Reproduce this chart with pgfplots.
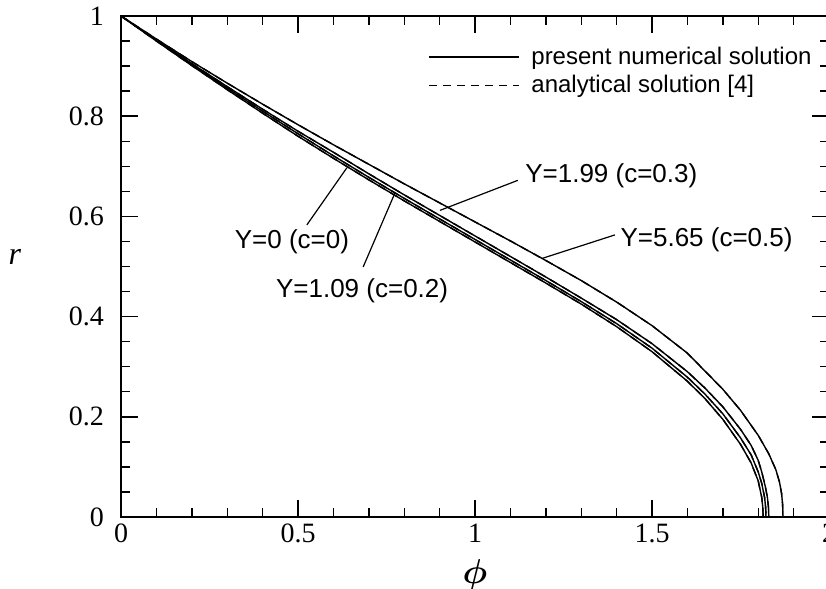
\documentclass[border=0pt]{standalone}
\usepackage{bm}
\usepackage{fontspec}
\setmainfont{Liberation Serif}
\newfontfamily\helv{Liberation Sans}
\usepackage{pgfplots}
\usepackage{pgfplotstable}
\pgfplotsset{compat=1.18}

% Y=0 (c=0)
\pgfplotstableread{
phi r
0 1.000
0.1 0.950
0.2 0.901
0.3 0.853
0.4 0.806
0.5 0.760
0.6 0.716
0.7 0.673
0.8 0.631
0.9 0.590
1.0 0.549
1.1 0.508
1.2 0.467
1.3 0.425
1.4 0.380
1.5 0.330
1.6 0.271
1.65 0.236
1.7 0.195
1.75 0.145
1.78 0.108
1.80 0.072
1.81 0.039
1.813 0.019
1.814 0
}\curveA

% Y=1.09 (c=0.2)
\pgfplotstableread{
phi r
0 1.000
0.1 0.951
0.2 0.903
0.3 0.856
0.4 0.810
0.5 0.765
0.6 0.721
0.7 0.678
0.8 0.636
0.9 0.595
1.0 0.554
1.1 0.513
1.2 0.472
1.3 0.430
1.4 0.386
1.5 0.337
1.6 0.279
1.65 0.245
1.7 0.206
1.75 0.158
1.78 0.124
1.80 0.090
1.81 0.067
1.818 0.039
1.821 0.019
1.822 0
}\curveB

% Y=1.99 (c=0.3)
\pgfplotstableread{
phi r
0 1.000
0.1 0.952
0.2 0.905
0.3 0.859
0.4 0.814
0.5 0.770
0.6 0.728
0.7 0.685
0.8 0.643
0.9 0.602
1.0 0.561
1.1 0.520
1.2 0.479
1.3 0.437
1.4 0.394
1.5 0.346
1.6 0.290
1.65 0.257
1.7 0.220
1.75 0.175
1.78 0.143
1.80 0.113
1.81 0.090
1.82 0.061
1.826 0.039
1.829 0.019
1.830 0
}\curveC

% Y=5.65 (c=0.5)
\pgfplotstableread{
phi r
0 1.000
0.1 0.954
0.2 0.909
0.3 0.866
0.4 0.824
0.5 0.783
0.6 0.743
0.7 0.704
0.8 0.665
0.9 0.627
1.0 0.589
1.1 0.551
1.2 0.512
1.3 0.472
1.4 0.429
1.5 0.382
1.6 0.327
1.7 0.255
1.75 0.213
1.8 0.163
1.83 0.126
1.85 0.094
1.86 0.070
1.866 0.047
1.869 0.024
1.870 0
}\curveD

\begin{document}
\begin{tikzpicture}
\begin{axis}[
  width=354pt, height=250.5pt, scale only axis,
  xmin=0, xmax=2, ymin=0, ymax=1,
  xtick={0,0.5,1,1.5,2}, ytick={0,0.2,0.4,0.6,0.8,1},
  minor x tick num=4, minor y tick num=3,
  tick align=inside, tick pos=both,
  major tick length=8.5pt, minor tick length=4.5pt,
  every tick/.style={black, line width=0.7pt},
  axis line style={line width=1pt},
  tick label style={font=\fontsize{14}{16}\selectfont},
  /pgf/number format/assume math mode=true,
  xticklabel style={yshift=0pt},
  yticklabel style={xshift=-5pt},
  xlabel={$\bm{\phi}$}, ylabel={\textit{r}},
  xlabel style={at={(axis description cs:0.5,-0.116)}, anchor=center, font=\fontsize{16}{18}\selectfont},
  ylabel style={at={(axis description cs:-0.15,0.52)}, anchor=center, rotate=-90, font=\fontsize{16}{18}\selectfont},
  legend style={at={(rel axis cs:0.425,0.955)}, anchor=north west, draw=none, fill=none,
    font=\helv\fontsize{12}{14}\selectfont, row sep=0pt},
  legend cell align=left,
  legend image code/.code={\draw[#1, line width=0.7pt] (0pt,0pt) -- (45pt,0pt); \path (49pt,0pt);},
]
\addlegendimage{solid}
\addlegendentry{present numerical solution}
\addlegendimage{dash pattern=on 4pt off 3pt}
\addlegendentry{analytical solution [4]}

\addplot[forget plot, black, line width=0.7pt, dash pattern=on 4pt off 3pt] table {\curveA};
\addplot[forget plot, black, line width=0.7pt, dash pattern=on 4pt off 3pt] table {\curveB};
\addplot[forget plot, black, line width=0.7pt, dash pattern=on 4pt off 3pt] table {\curveC};
\addplot[forget plot, black, line width=0.7pt, dash pattern=on 4pt off 3pt] table {\curveD};
\addplot[forget plot, black, line width=0.7pt] table {\curveA};
\addplot[forget plot, black, line width=0.7pt] table {\curveB};
\addplot[forget plot, black, line width=0.7pt] table {\curveC};
\addplot[forget plot, black, line width=0.7pt] table {\curveD};

\begin{scope}[font=\helv\fontsize{13}{15}\selectfont]
\node at (axis cs:0.483,0.549) {Y=0 (c=0)};
\draw[line width=0.6pt] (axis cs:0.525,0.583) -- (axis cs:0.638,0.697);
\node at (axis cs:0.681,0.451) {Y=1.09 (c=0.2)};
\draw[line width=0.6pt] (axis cs:0.684,0.499) -- (axis cs:0.774,0.647);
\node[anchor=west, inner sep=0pt] at (axis cs:1.141,0.682) {Y=1.99 (c=0.3)};
\draw[line width=0.6pt] (axis cs:1.121,0.672) -- (axis cs:0.901,0.612);
\node[anchor=west, inner sep=0pt] at (axis cs:1.410,0.553) {Y=5.65 (c=0.5)};
\draw[line width=0.6pt] (axis cs:1.395,0.563) -- (axis cs:1.189,0.516);
\end{scope}
\end{axis}
\pgfresetboundingbox
\path ([shift={(-60.5pt,-35.5pt)}]current axis.south west) rectangle ([shift={(-1.5pt,8pt)}]current axis.north east);
\end{tikzpicture}
\end{document}
